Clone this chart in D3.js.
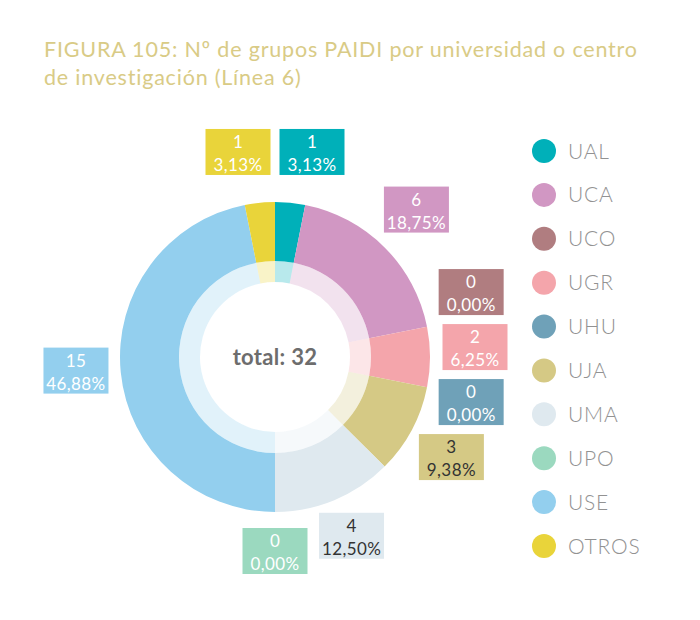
<!DOCTYPE html>
<html>
<head>
<meta charset="utf-8">
<script src="https://cdn.jsdelivr.net/npm/d3@7"></script>
<style>
  body { margin: 0; background: #fff; }
  svg text { font-family: Lato, "Open Sans", sans-serif; }
</style>
</head>
<body>
<svg id="chart" width="700" height="620"></svg>
<script>
// data
var categories = ["UAL", "UCA", "UCO", "UGR", "UHU", "UJA", "UMA", "UPO", "USE", "OTROS"];
var values = [1, 6, 0, 2, 0, 3, 4, 0, 15, 1];
var percents = ["3,13%", "18,75%", "0,00%", "6,25%", "0,00%", "9,38%", "12,50%", "0,00%", "46,88%", "3,13%"];
var colors = ["#00b0b9", "#d197c3", "#b07d80", "#f4a5ab", "#6fa1b8", "#d5c985", "#dfe9ef", "#9bd9bf", "#93cfee", "#e9d43a"];
var darkText = ["UJA", "UMA"];
var titleLines = ["FIGURA 105: Nº de grupos PAIDI por universidad o centro", "de investigación (Línea 6)"];

var svg = d3.select("#chart");
var cx = 275, cy = 357;
var rOuter = 155, rMid = 96, rInner = 75, rLabel = 200;
var boxW = 65, boxH = 46;

// title
svg.append("g").selectAll("text")
    .data(titleLines)
  .enter().append("text")
    .attr("x", 44)
    .attr("y", function(d, i) { return 57 + i * 28; })
    .attr("fill", "#d9cb86")
    .attr("font-size", 21.5)
    .attr("letter-spacing", 0.8)
    .text(function(d) { return d; });

var pie = d3.pie().sort(null).value(function(d) { return d.value; });
var data = categories.map(function(c, i) {
    return {name: c, value: values[i], pct: percents[i], color: colors[i]};
});
var arcs = pie(data);

var outerArc = d3.arc().innerRadius(rMid).outerRadius(rOuter);
var innerArc = d3.arc().innerRadius(rInner).outerRadius(rMid);

var g = svg.append("g").attr("transform", "translate(" + cx + "," + cy + ")");

g.selectAll(".inner")
    .data(arcs)
  .enter().append("path")
    .attr("class", "inner")
    .attr("d", innerArc)
    .attr("fill", function(d) { return d.data.color; })
    .attr("fill-opacity", 0.28);

g.selectAll(".outer")
    .data(arcs)
  .enter().append("path")
    .attr("class", "outer")
    .attr("d", outerArc)
    .attr("fill", function(d) { return d.data.color; });

g.append("text")
    .attr("text-anchor", "middle")
    .attr("dy", "0.35em")
    .attr("font-size", 22)
    .attr("font-weight", "bold")
    .attr("fill", "#6d6d6d")
    .attr("letter-spacing", 0.3)
    .text("total: " + d3.sum(values));

// label boxes: start at centroid on a ring, then push overlapping ones apart
var labelArc = d3.arc().innerRadius(rLabel).outerRadius(rLabel);
var labels = arcs.map(function(d) {
    var c = labelArc.centroid(d);
    return {d: d, x: c[0], y: c[1] - 6};
});
var gap = 9;
for (var it = 0; it < 200; it++) {
    for (var i = 0; i < labels.length; i++) {
        for (var j = i + 1; j < labels.length; j++) {
            var a = labels[i], b = labels[j];
            var dx = b.x - a.x, dy = b.y - a.y;
            var ox = boxW + gap - Math.abs(dx), oy = boxH + gap - Math.abs(dy);
            if (ox > 0 && oy > 0) {
                if (ox < oy) {
                    var sx = (dx >= 0 ? 1 : -1) * ox / 2 * 0.5;
                    a.x -= sx; b.x += sx;
                } else {
                    var sy = (dy >= 0 ? 1 : -1) * oy / 2 * 0.5;
                    a.y -= sy; b.y += sy;
                }
            }
        }
    }
}

var lab = g.selectAll(".lab")
    .data(labels)
  .enter().append("g")
    .attr("class", "lab")
    .attr("transform", function(d) { return "translate(" + d.x + "," + d.y + ")"; });

lab.append("rect")
    .attr("x", -boxW / 2).attr("y", -boxH / 2)
    .attr("width", boxW).attr("height", boxH)
    .attr("fill", function(d) { return d.d.data.color; });

function txtColor(d) { return darkText.indexOf(d.d.data.name) >= 0 ? "#333" : "#fff"; }

lab.append("text")
    .attr("text-anchor", "middle")
    .attr("y", -4)
    .attr("font-size", 17)
    .attr("letter-spacing", 0.4)
    .attr("fill", txtColor)
    .text(function(d) { return d.d.data.value; });

lab.append("text")
    .attr("text-anchor", "middle")
    .attr("y", 19)
    .attr("font-size", 17)
    .attr("letter-spacing", 0.4)
    .attr("fill", txtColor)
    .text(function(d) { return d.d.data.pct; });

// legend
var y = d3.scalePoint().domain(categories).range([151, 546]);
var leg = svg.append("g").selectAll("g")
    .data(data)
  .enter().append("g")
    .attr("transform", function(d) { return "translate(544," + y(d.name) + ")"; });

leg.append("circle")
    .attr("r", 12)
    .attr("fill", function(d) { return d.color; });

leg.append("text")
    .attr("x", 24)
    .attr("dy", "0.36em")
    .attr("font-size", 21)
    .attr("font-weight", 300)
    .attr("letter-spacing", 0.8)
    .attr("fill", "#929292")
    .text(function(d) { return d.name; });
</script>
</body>
</html>
